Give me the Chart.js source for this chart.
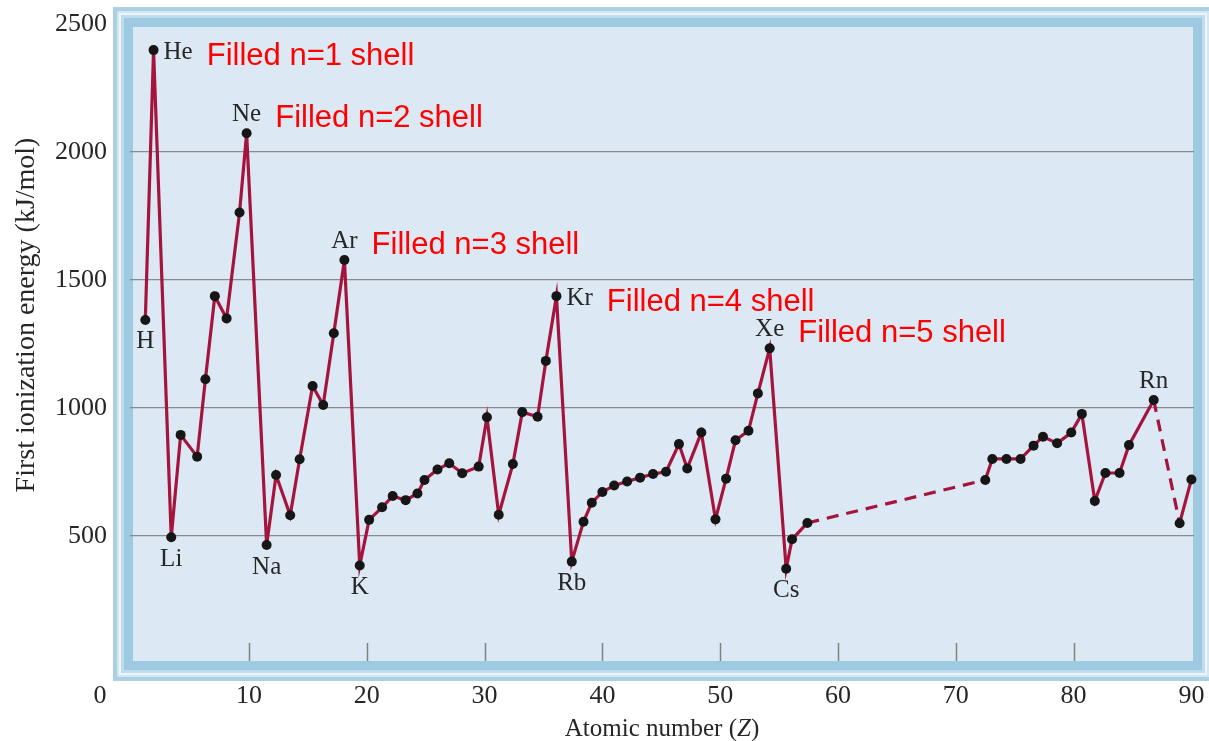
<!DOCTYPE html>
<html>
<head>
<meta charset="utf-8">
<script src="https://cdn.jsdelivr.net/npm/chart.js@4/dist/chart.umd.min.js"></script>
<style>
  html, body { margin: 0; padding: 0; background: #ffffff; }
  #wrap { width: 1209px; height: 741px; }
</style>
</head>
<body>
<div id="wrap"><canvas id="ie" width="1209" height="741"></canvas></div>
<script>
// First ionization energies of the elements, plotted against atomic number.
const symbols = [
  'H','He','Li','Be','B','C','N','O','F','Ne',
  'Na','Mg','Al','Si','P','S','Cl','Ar',
  'K','Ca','Sc','Ti','V','Cr','Mn','Fe','Co','Ni','Cu','Zn','Ga','Ge','As','Se','Br','Kr',
  'Rb','Sr','Y','Zr','Nb','Mo','Tc','Ru','Rh','Pd','Ag','Cd','In','Sn','Sb','Te','I','Xe',
  'Cs','Ba','La',
  'Hf','Ta','W','Re','Os','Ir','Pt','Au','Hg','Tl','Pb','Bi','Po','Rn',
  'Fr','Ra'
];
// horizontal position of each element on the Z axis
const zPos = [
  1.2, 1.9, 3.4, 4.2, 5.6, 6.3, 7.1, 8.1, 9.2, 9.8,
  11.5, 12.3, 13.5, 14.3, 15.4, 16.3, 17.2, 18.1,
  19.4, 20.2, 21.3, 22.2, 23.3, 24.3, 24.9, 26.0, 27.0, 28.1, 29.5, 30.2, 31.2, 32.4, 33.2, 34.5, 35.2, 36.1,
  37.4, 38.4, 39.1, 40.0, 41.0, 42.1, 43.2, 44.3, 45.4, 46.5, 47.2, 48.4, 49.6, 50.5, 51.3, 52.4, 53.2, 54.2,
  55.6, 56.1, 57.4,
  72.5, 73.1, 74.3, 75.5, 76.6, 77.4, 78.6, 79.8, 80.7, 81.8, 82.7, 83.9, 84.7, 86.8,
  89.0, 90.0
];
// first ionization energy, kJ/mol
const energy = [
  1344, 2398, 495, 895, 810, 1112, 1437, 1350, 1764, 2073,
  465, 738, 581, 800, 1086, 1012, 1292, 1578,
  385, 563, 612, 656, 640, 666, 719, 760, 784, 745, 771, 964, 583, 781, 984, 966, 1184, 1437,
  400, 556, 630, 672, 697, 713, 728, 742, 751, 859, 764, 904, 565, 724, 874, 911, 1057, 1233,
  372, 487, 551,
  719, 801, 801, 801, 853, 888, 862, 904, 977, 637, 746, 746, 855, 1031,
  550, 721
];
// segments that bridge elements left out of the plot are dashed
const dashedFrom = ['La', 'Rn'];
// element name labels and where they sit relative to the point
const labelAbove = ['Ne', 'Ar', 'Xe', 'Rn'];
const labelRight = ['He', 'Kr'];
const labelBelow = ['H', 'Li', 'Na', 'K', 'Rb', 'Cs'];
// filled-shell notes attached to the noble gases
const shellGas = ['He', 'Ne', 'Ar', 'Kr', 'Xe'];
const shellNotes = ['Filled n=1 shell', 'Filled n=2 shell', 'Filled n=3 shell', 'Filled n=4 shell', 'Filled n=5 shell'];
// axis ticks
const xTicks = [10, 20, 30, 40, 50, 60, 70, 80, 90];
const xTickMarks = [10, 20, 30, 40, 50, 60, 70, 80];
const yTicks = [500, 1000, 1500, 2000, 2500];

const SERIF = '"Liberation Serif", "Times New Roman", serif';
const SANS = '"Liberation Sans", Arial, sans-serif';
const INK = '#262626';

const points = zPos.map((z, i) => ({ x: z, y: energy[i] }));

// keep the plotting area fixed: no extra room for overhanging tick labels
const noOverhang = s => { s.paddingTop = 0; s.paddingBottom = 0; s.paddingLeft = 0; s.paddingRight = 0; };

// light-blue bevelled frame behind the plotting area
const framePlugin = {
  id: 'frame',
  beforeDraw(chart) {
    const c = chart.ctx;
    const a = chart.chartArea;
    c.save();
    c.fillStyle = '#ffffff';
    c.fillRect(0, 0, chart.width, chart.height);
    const inner = { l: a.left + 3, t: a.top + 3, r: a.right - 1, b: a.bottom - 3 };
    const layers = [
      [20, '#a9d0e5'],
      [16, '#d3e7f3'],
      [14, '#eef6fb'],
      [12, '#bedcec'],
      [9,  '#9dc9e1'],
      [0,  '#dce9f4']
    ];
    layers.forEach(([w, col]) => {
      c.fillStyle = col;
      c.fillRect(inner.l - w, inner.t - w, (inner.r - inner.l) + 2 * w, (inner.b - inner.t) + 2 * w);
    });
    c.restore();
  },
  beforeDatasetsDraw(chart) {
    const c = chart.ctx;
    const xs = chart.scales.x;
    const bottom = chart.chartArea.bottom - 3;
    c.save();
    c.strokeStyle = '#808080';
    c.lineWidth = 1.5;
    xTickMarks.forEach(v => {
      const px = Math.round(xs.getPixelForValue(v)) + 0.5;
      c.beginPath();
      c.moveTo(px, bottom);
      c.lineTo(px, bottom - 18);
      c.stroke();
    });
    c.restore();
  }
};

// element symbols, filled-shell notes, origin label and axis titles
const textPlugin = {
  id: 'texts',
  afterDraw(chart) {
    const c = chart.ctx;
    const meta = chart.getDatasetMeta(0);
    const a = chart.chartArea;
    c.save();
    c.font = '25px ' + SERIF;
    c.fillStyle = INK;
    c.textBaseline = 'middle';
    const labelBox = {};
    symbols.forEach((s, i) => {
      const pt = meta.data[i];
      let x, y, align;
      if (labelAbove.includes(s)) { x = pt.x; y = pt.y - 19; align = 'center'; }
      else if (labelBelow.includes(s)) { x = pt.x; y = pt.y + 22; align = 'center'; }
      else if (labelRight.includes(s)) { x = pt.x + 10; y = pt.y + 2; align = 'left'; }
      else return;
      c.textAlign = align;
      c.fillText(s, x, y);
      const w = c.measureText(s).width;
      const right = align === 'left' ? x + w : x + w / 2;
      labelBox[s] = { right, cy: y };
    });

    c.font = '31px ' + SANS;
    c.fillStyle = '#ff0000';
    c.textAlign = 'left';
    shellGas.forEach((g, k) => {
      const b = labelBox[g];
      c.fillText(shellNotes[k], b.right + 14, b.cy + 4);
    });

    // origin label shared by both axes
    c.font = '26px ' + SERIF;
    c.fillStyle = INK;
    c.textAlign = 'center';
    c.fillText('0', 100, a.bottom + 32);

    // x axis title with italic Z
    c.textBaseline = 'alphabetic';
    c.textAlign = 'left';
    const p1 = 'Atomic number (', p2 = 'Z', p3 = ')';
    const fN = '25px ' + SERIF, fI = 'italic 25px ' + SERIF;
    c.font = fN; const w1 = c.measureText(p1).width; const w3 = c.measureText(p3).width;
    c.font = fI; const w2 = c.measureText(p2).width;
    let tx = 662 - (w1 + w2 + w3) / 2;
    const ty = 736;
    c.font = fN; c.fillText(p1, tx, ty); tx += w1;
    c.font = fI; c.fillText(p2, tx, ty); tx += w2;
    c.font = fN; c.fillText(p3, tx, ty);

    // y axis title
    c.translate(27, 315);
    c.rotate(-Math.PI / 2);
    c.font = '28px ' + SERIF;
    c.textAlign = 'center';
    c.textBaseline = 'middle';
    c.fillText('First ionization energy (kJ/mol)', 0, 0);
    c.restore();
  }
};

new Chart(document.getElementById('ie'), {
  type: 'line',
  data: {
    datasets: [{
      data: points,
      borderColor: '#a5143c',
      borderWidth: 3.2,
      tension: 0,
      clip: false,
      pointRadius: 5,
      pointHoverRadius: 5,
      pointBackgroundColor: '#161616',
      pointBorderWidth: 0,
      segment: {
        borderDash: ctx => dashedFrom.includes(symbols[ctx.p0DataIndex]) ? [12, 8] : undefined
      }
    }]
  },
  options: {
    responsive: false,
    animation: false,
    devicePixelRatio: 1,
    layout: { padding: { top: 24, right: 15, left: 0, bottom: 0 } },
    plugins: { legend: { display: false }, tooltip: { enabled: false } },
    scales: {
      x: {
        type: 'linear',
        min: -0.1,
        max: 90.22,
        grid: { display: false },
        border: { display: false },
        afterBuildTicks: s => { s.ticks = xTicks.map(v => ({ value: v })); },
        afterFit: s => { s.height = 77; noOverhang(s); },
        ticks: {
          font: { family: SERIF, size: 26 }, color: INK, padding: 9,
          maxRotation: 0, autoSkip: false, callback: v => String(v)
        }
      },
      y: {
        min: 0,
        max: 2500,
        afterBuildTicks: s => { s.ticks = yTicks.map(v => ({ value: v })); },
        afterFit: s => { s.width = 130; noOverhang(s); },
        border: { display: false },
        grid: {
          drawTicks: false,
          color: c => (c.tick && c.tick.value === 2500) ? 'rgba(0,0,0,0)' : '#8a8a8a',
          lineWidth: 1.2
        },
        ticks: { font: { family: SERIF, size: 26 }, color: INK, padding: 23, callback: v => String(v) }
      }
    }
  },
  plugins: [framePlugin, textPlugin]
});
</script>
</body>
</html>
